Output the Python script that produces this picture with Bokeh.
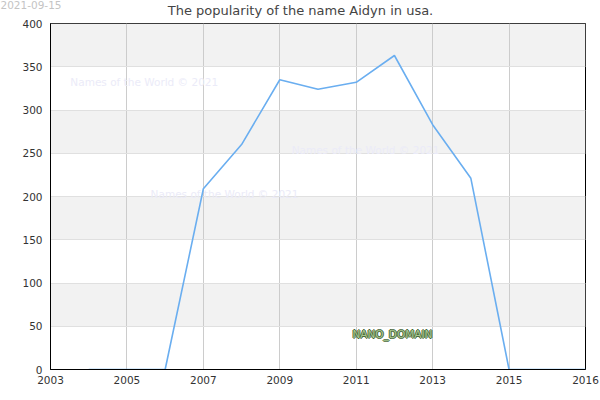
from bokeh.plotting import figure
from bokeh.models import FixedTicker, BoxAnnotation, Label, Range1d
from bokeh.embed import file_html
from bokeh.resources import INLINE

# ---- data ----
years = [2004, 2005, 2006, 2007, 2008, 2009, 2010, 2011, 2012, 2013, 2014, 2015, 2016, 2017]
counts = [0, 0, 0, 209, 260, 335, 324, 332, 363, 283, 221, 0, 0, 0]
x_tick_pos = [2003, 2005, 2007, 2009, 2011, 2013, 2015, 2017]
x_tick_labels = ["2003", "2005", "2007", "2009", "2011", "2013", "2015", "2016"]
y_ticks = [0, 50, 100, 150, 200, 250, 300, 350, 400]
title_text = "The popularity of the name Aidyn in usa."
date_text = "2021-09-15"
watermark = "Names of the World © 2021"
brand = "NANO_DOMAIN"

FONT = "DejaVu Sans"

p = figure(width=600, height=400, output_backend="svg", toolbar_location=None,
           x_range=Range1d(2003, 2017), y_range=Range1d(0, 400),
           min_border_left=50, min_border_right=15, min_border_top=23, min_border_bottom=31)
p.title.visible = False
p.background_fill_color = "white"
p.border_fill_color = "white"
p.outline_line_color = "black"
p.outline_line_width = 1

# alternating bands
for lo in [50, 150, 250, 350]:
    p.add_layout(BoxAnnotation(bottom=lo, top=lo + 50, fill_color="#f2f2f2", fill_alpha=1,
                               line_color=None, level="image"))

p.xaxis.ticker = FixedTicker(ticks=x_tick_pos)
p.xaxis.major_label_overrides = {t: l for t, l in zip(x_tick_pos, x_tick_labels)}
p.yaxis.ticker = FixedTicker(ticks=y_ticks)
for ax in (p.xaxis, p.yaxis):
    ax.axis_line_color = "black"
    ax.major_tick_line_color = None
    ax.minor_tick_line_color = None
    ax.major_tick_out = 0
    ax.major_tick_in = 0
    ax.major_label_text_font = FONT
    ax.major_label_text_font_size = "10.5px"
    ax.major_label_text_color = "#333333"
p.xaxis.major_label_standoff = 6
p.yaxis.major_label_standoff = 8

p.xgrid.grid_line_color = "#cccccc"
p.ygrid.grid_line_color = "#e0e0e0"

p.line(years, counts, line_color="#6aaef0", line_width=1.6)

# watermarks
for wx, wy in [(2003.52, 332), (2009.31, 253.5), (2005.62, 202.7)]:
    p.add_layout(Label(x=wx, y=wy, text=watermark, text_font=FONT, text_font_size="10.5px",
                       text_color="#ebebf8", text_baseline="middle"))

# outlined brand text
bx, by = 2010.9, 40.8
for dx, dy in [(-1, 0), (1, 0), (0, -1), (0, 1)]:
    p.add_layout(Label(x=bx, y=by, x_offset=dx, y_offset=dy, text=brand, text_font=FONT,
                       text_font_size="10.5px", text_color="#4a6a3c", text_baseline="middle"))
p.add_layout(Label(x=bx, y=by, text=brand, text_font=FONT, text_font_size="10.5px",
                   text_color="#a9c790", text_baseline="middle"))

# title and date placed in the top panel (screen units)
p.add_layout(Label(x=250, y=21, x_units="screen", y_units="screen", text=title_text,
                   text_font=FONT, text_font_size="13px", text_color="#444444",
                   text_align="center", text_baseline="top"), "above")
p.add_layout(Label(x=-50, y=8, x_units="screen", y_units="screen", text=date_text,
                   text_font=FONT, text_font_size="10.5px", text_color="#c4c4c4",
                   text_align="left", text_baseline="top"), "above")

open("out.html", "w").write(file_html(p, INLINE))
